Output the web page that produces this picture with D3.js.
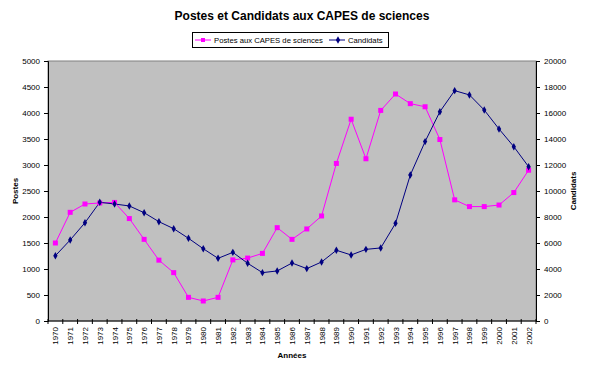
<!DOCTYPE html>
<html lang="fr">
<head>
  <meta charset="UTF-8">
  <title>Postes et Candidats aux CAPES de sciences</title>
  <script src="https://d3js.org/d3.v7.min.js"></script>
  <style>
    body { margin: 0; background: #fff; }
    text { font-family: "Liberation Sans", Arial, sans-serif; }
  </style>
</head>
<body>
<div id="chart"></div>
<script>
  // data
  const years = d3.range(1970, 2003).map(String);
  const postes = [1500, 2090, 2250, 2270, 2280, 1970, 1570, 1170, 930, 455, 385, 455,
    1175, 1210, 1300, 1795, 1570, 1770, 2020, 3030, 3880, 3120, 4050, 4365,
    4180, 4120, 3490, 2330, 2200, 2200, 2230, 2470, 2900];
  const candidats = [5020, 6230, 7560, 9130, 9000, 8850, 8330, 7640, 7100, 6360, 5560, 4820,
    5280, 4440, 3720, 3850, 4460, 4030, 4540, 5440, 5080, 5510, 5620, 7510,
    11230, 13800, 16100, 17720, 17390, 16230, 14770, 13410, 11870];
  const leftTicks = d3.range(0, 5001, 500);
  const rightTicks = d3.range(0, 20001, 2000);

  const width = 600, height = 381;
  const plot = { left: 48, right: 536, top: 61, bottom: 321 };

  const svg = d3.select("#chart").append("svg")
    .attr("width", width)
    .attr("height", height);

  svg.append("rect").attr("width", width).attr("height", height).attr("fill", "#fff");

  const x = d3.scaleBand().domain(years).range([plot.left, plot.right]);
  const yL = d3.scaleLinear().domain([0, 5000]).range([plot.bottom, plot.top]);
  const yR = d3.scaleLinear().domain([0, 20000]).range([plot.bottom, plot.top]);

  // plot area
  svg.append("rect")
    .attr("x", plot.left).attr("y", plot.top)
    .attr("width", plot.right - plot.left).attr("height", plot.bottom - plot.top)
    .attr("fill", "#c0c0c0").attr("stroke", "#808080").attr("stroke-width", 1);

  // left axis
  const gL = svg.append("g").attr("transform", "translate(" + plot.left + ",0)")
    .call(d3.axisLeft(yL).tickValues(leftTicks).tickFormat(d3.format("d")).tickSize(4).tickPadding(4));
  // right axis
  const gR = svg.append("g").attr("transform", "translate(" + plot.right + ",0)")
    .call(d3.axisRight(yR).tickValues(rightTicks).tickFormat(d3.format("d")).tickSize(4).tickPadding(4));
  [gL, gR].forEach(g => {
    g.selectAll("text").attr("font-size", 8).attr("fill", "#000")
      .style("font-family", "'Liberation Sans', Arial, sans-serif");
    g.selectAll("line").attr("stroke", "#000");
    g.select(".domain").attr("stroke", "#000");
  });

  // bottom axis
  const gB = svg.append("g").attr("transform", "translate(0," + plot.bottom + ")");
  gB.append("line").attr("x1", plot.left).attr("x2", plot.right).attr("stroke", "#000");
  gB.selectAll(".tk").data(years.concat(["end"])).enter().append("line")
    .attr("x1", (d, i) => plot.left + i * x.step())
    .attr("x2", (d, i) => plot.left + i * x.step())
    .attr("y1", -2).attr("y2", 3).attr("stroke", "#000");
  gB.selectAll(".lbl").data(years).enter().append("text")
    .attr("transform", d => "translate(" + (x(d) + x.bandwidth() / 2 + 3) + ",6) rotate(-90)")
    .attr("text-anchor", "end")
    .attr("font-size", 8)
    .text(d => d);

  // lines
  const linePostes = d3.line().x((d, i) => x(years[i]) + x.bandwidth() / 2).y(d => yL(d));
  const lineCand = d3.line().x((d, i) => x(years[i]) + x.bandwidth() / 2).y(d => yR(d));

  svg.append("path").datum(postes).attr("d", linePostes)
    .attr("fill", "none").attr("stroke", "#ff00ff").attr("stroke-width", 1);
  svg.append("path").datum(candidats).attr("d", lineCand)
    .attr("fill", "none").attr("stroke", "#000080").attr("stroke-width", 1);

  svg.selectAll(".mp").data(postes).enter().append("rect")
    .attr("x", (d, i) => x(years[i]) + x.bandwidth() / 2 - 2.5)
    .attr("y", d => yL(d) - 2.5)
    .attr("width", 5).attr("height", 5)
    .attr("fill", "#ff00ff");
  const diamond = d3.symbol().type(d3.symbolDiamond).size(16);
  svg.selectAll(".mc").data(candidats).enter().append("path")
    .attr("transform", (d, i) => "translate(" + (x(years[i]) + x.bandwidth() / 2) + "," + yR(d) + ")")
    .attr("d", diamond)
    .attr("fill", "#000080");

  // title
  svg.append("text").attr("x", 302).attr("y", 20)
    .attr("text-anchor", "middle").attr("font-size", 12).attr("font-weight", "bold")
    .text("Postes et Candidats aux CAPES de sciences");

  // axis titles
  svg.append("text").attr("transform", "translate(18,191) rotate(-90)")
    .attr("text-anchor", "middle").attr("font-size", 8).attr("font-weight", "bold")
    .text("Postes");
  svg.append("text").attr("transform", "translate(576,191) rotate(-90)")
    .attr("text-anchor", "middle").attr("font-size", 8).attr("font-weight", "bold")
    .text("Candidats");
  svg.append("text").attr("x", 292).attr("y", 358)
    .attr("text-anchor", "middle").attr("font-size", 8).attr("font-weight", "bold")
    .text("Années");

  // legend
  const lg = svg.append("g").attr("transform", "translate(192,32)");
  lg.append("rect").attr("x", 0.5).attr("y", 0.5).attr("width", 196).attr("height", 15)
    .attr("fill", "#fff").attr("stroke", "#000").attr("stroke-width", 1);
  lg.append("line").attr("x1", 3).attr("x2", 19).attr("y1", 8).attr("y2", 8)
    .attr("stroke", "#ff00ff");
  lg.append("rect").attr("x", 9).attr("y", 6).attr("width", 4).attr("height", 4).attr("fill", "#ff00ff");
  lg.append("text").attr("x", 22).attr("y", 11).attr("font-size", 7.7).text("Postes aux CAPES de sciences");
  lg.append("line").attr("x1", 137).attr("x2", 153).attr("y1", 8).attr("y2", 8)
    .attr("stroke", "#000080");
  lg.append("path").attr("transform", "translate(146,8)").attr("d", diamond).attr("fill", "#000080");
  lg.append("text").attr("x", 156).attr("y", 11).attr("font-size", 7.7).text("Candidats");
</script>
</body>
</html>
